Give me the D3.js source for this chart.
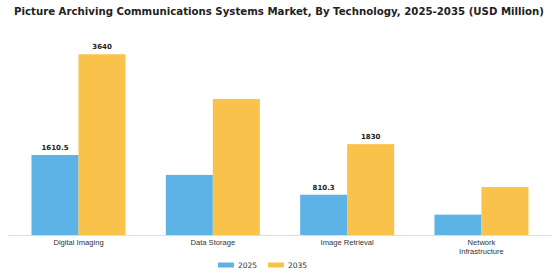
<!DOCTYPE html>
<html>
<head>
<meta charset="utf-8">
<script src="https://cdn.jsdelivr.net/npm/d3@7"></script>
<style>
  body { margin: 0; background: #fff; }
  svg { font-family: "DejaVu Sans", sans-serif; }
</style>
</head>
<body>
<svg id="main" width="560" height="280"></svg>
<script>
var categories = ["Digital Imaging", "Data Storage", "Image Retrieval", "Network Infrastructure"];
var years = ["2025", "2035"];
var values2025 = [1610.5, 1210, 810.3, 410];
var values2035 = [3640, 2740, 1830, 965];
// which bars get a value label (as in the source picture)
var labelled2025 = [true, false, true, false];
var labelled2035 = [true, false, true, false];
var colors = ["#5DB3E6", "#F9C24A"];

const svg = d3.select('svg#main');
const width = 560, height = 280;

var rows = categories.map(function(c, i) {
    return {
        cat: c,
        bars: [
            {year: years[0], value: values2025[i], label: labelled2025[i]},
            {year: years[1], value: values2035[i], label: labelled2035[i]}
        ]
    };
});

var x = d3.scaleBand().domain(categories).range([8, 552])
    .paddingInner(0.3).paddingOuter(0.175);
var x1 = d3.scaleBand().domain(years).range([0, x.bandwidth()]);
var y = d3.scaleLinear().domain([0, 4000]).range([235, 36.4]);

svg.append('text')
    .attr('x', 279).attr('y', 14.5)
    .attr('text-anchor', 'middle')
    .attr('font-size', 10.2).attr('font-weight', 'bold')
    .attr('fill', '#222')
    .text('Picture Archiving Communications Systems Market, By Technology, 2025-2035 (USD Million)');

var g = svg.selectAll('g.group').data(rows).join('g')
    .attr('class', 'group')
    .attr('transform', d => `translate(${x(d.cat)},0)`);

g.selectAll('rect').data(d => d.bars).join('rect')
    .attr('x', d => x1(d.year))
    .attr('width', x1.bandwidth())
    .attr('y', d => y(d.value))
    .attr('height', d => y(0) - y(d.value))
    .attr('fill', (d, i) => colors[i]);

g.selectAll('text.val').data(d => d.bars.filter(b => b.label)).join('text')
    .attr('class', 'val')
    .attr('x', d => x1(d.year) + x1.bandwidth() / 2)
    .attr('y', d => y(d.value) - 5)
    .attr('text-anchor', 'middle')
    .attr('font-size', 7).attr('font-weight', 'bold')
    .attr('fill', '#222')
    .text(d => d.value);

// x axis
var xAxis = svg.append('g')
    .attr('transform', `translate(0,${y(0)})`)
    .call(d3.axisBottom(x).tickSize(0).tickFormat(''));
xAxis.select('.domain').attr('stroke', '#ddd').attr('stroke-width', 1);

xAxis.selectAll('.tick').each(function(d) {
    var words = d === "Network Infrastructure" ? ["Network", "Infrastructure"] : [d];
    var t = d3.select(this).append('text')
        .attr('fill', '#333')
        .attr('font-size', 7.6)
        .attr('text-anchor', 'middle');
    words.forEach(function(w, i) {
        t.append('tspan').attr('x', 0).attr('y', 10 + i * 8.5).text(w);
    });
});

// legend
var legend = svg.append('g').attr('transform', 'translate(218,265)');
var items = legend.selectAll('g').data(years).join('g')
    .attr('transform', (d, i) => `translate(${i * 50},0)`);
items.append('rect')
    .attr('x', 0).attr('y', -2.5).attr('width', 16).attr('height', 5)
    .attr('fill', (d, i) => colors[i]);
items.append('text')
    .attr('x', 20).attr('y', 2.7)
    .attr('font-size', 7.5).attr('fill', '#333')
    .text(d => d);
</script>
</body>
</html>
